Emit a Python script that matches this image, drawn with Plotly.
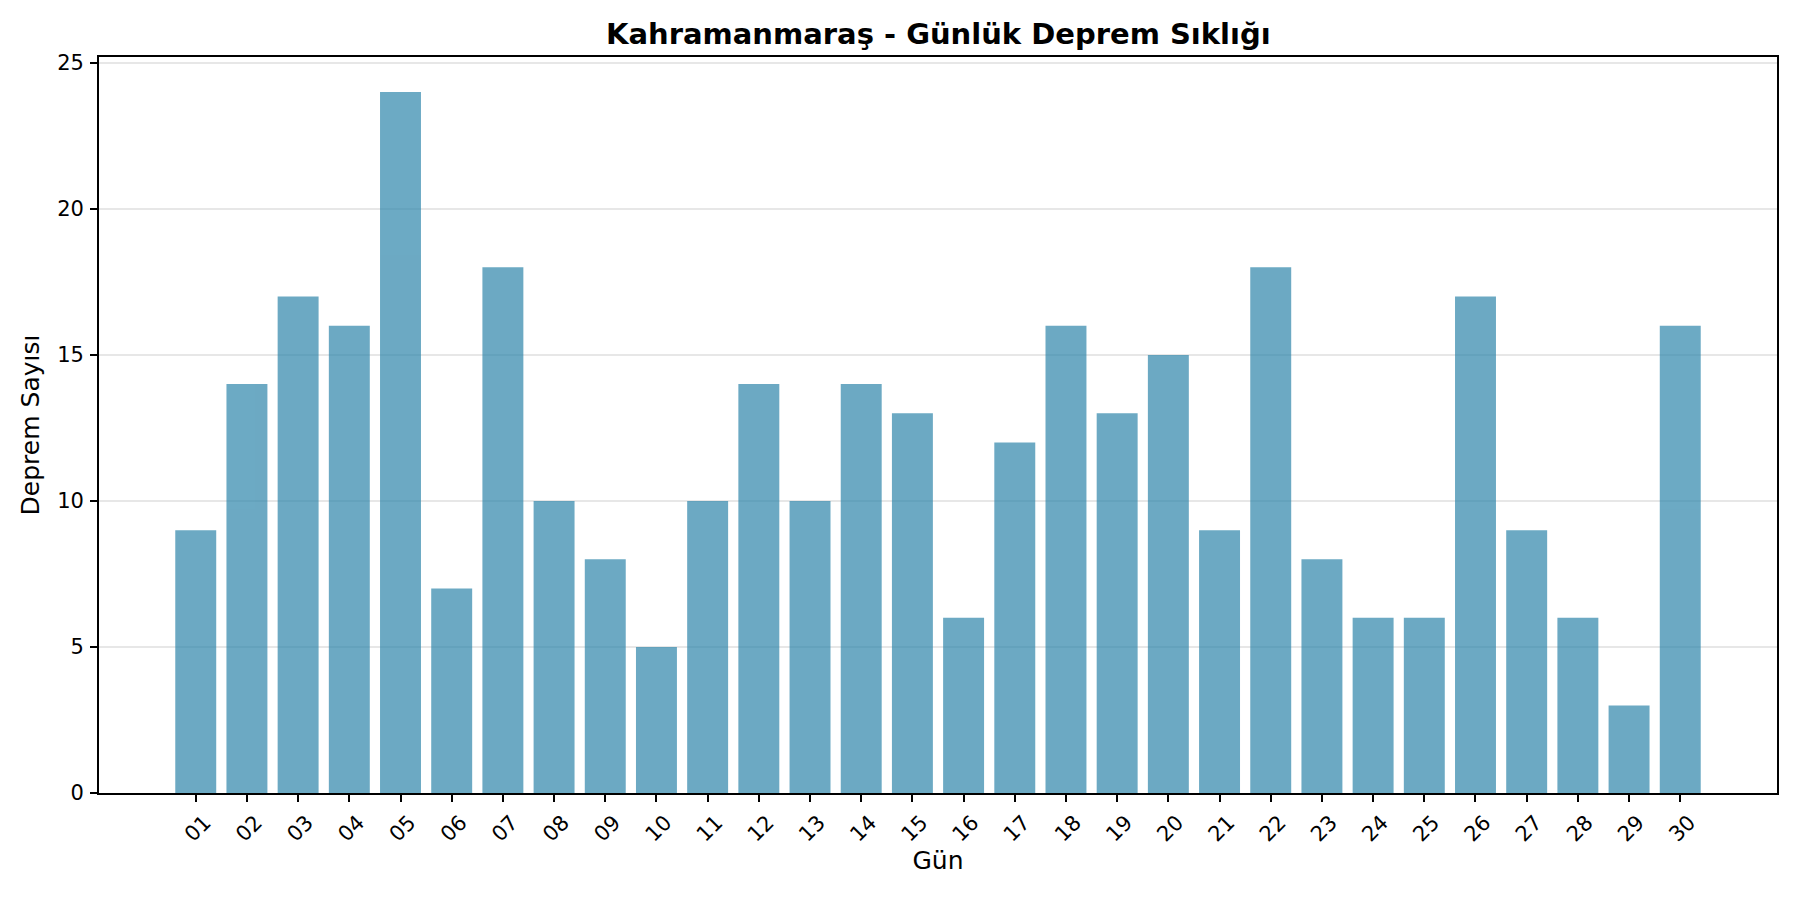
import plotly.graph_objects as go

days = ["01", "02", "03", "04", "05", "06", "07", "08", "09", "10",
        "11", "12", "13", "14", "15", "16", "17", "18", "19", "20",
        "21", "22", "23", "24", "25", "26", "27", "28", "29", "30"]
counts = [9, 14, 17, 16, 24, 7, 18, 10, 8, 5,
          10, 14, 10, 14, 13, 6, 12, 16, 13, 15,
          9, 18, 8, 6, 6, 17, 9, 6, 3, 16]

title_text = "Kahramanmaraş - Günlük Deprem Sıklığı"
x_title = "Gün"
y_title = "Deprem Sayısı"

FONT = "DejaVu Sans"

fig = go.Figure()
fig.add_trace(go.Bar(
    x=days, y=counts,
    marker=dict(color="#2E86AB", line=dict(width=0)),
    opacity=0.7,
    width=0.8,
))

fig.update_layout(
    width=1784, height=884,
    margin=dict(l=91, r=15, t=49, b=99),
    paper_bgcolor="white", plot_bgcolor="white",
    font=dict(family=FONT, color="black", size=21),
    showlegend=False,
    bargap=0.2,
    annotations=[
        dict(text="<b>" + title_text + "</b>", xref="paper", yref="paper",
             x=0.5, y=1, xanchor="center", yanchor="bottom", yshift=4,
             showarrow=False, font=dict(family=FONT, size=29, color="black")),
    ],
)

fig.update_xaxes(
    type="category",
    range=[-1.89, 30.89],
    showline=True, linecolor="black", linewidth=1.67, mirror=True,
    ticks="outside", ticklen=7, tickwidth=1.67, tickcolor="black",
    tickangle=-45, tickfont=dict(family=FONT, size=21, color="black"),
    ticklabelshift=9,
    showgrid=False, zeroline=False,
    title=dict(text=x_title, font=dict(family=FONT, size=25, color="black"), standoff=6),
)
fig.update_yaxes(
    range=[0, 25.2],
    tickvals=[0, 5, 10, 15, 20, 25],
    showline=True, linecolor="black", linewidth=1.67, mirror=True,
    ticks="outside", ticklen=7, tickwidth=1.67, tickcolor="black",
    tickfont=dict(family=FONT, size=21, color="black"),
    ticklabelstandoff=2,
    showgrid=True, gridcolor="#e7e7e7", gridwidth=1.67,
    zeroline=False,
    title=dict(text=y_title, font=dict(family=FONT, size=25, color="black"), standoff=10),
)

fig.write_html("out.html")
